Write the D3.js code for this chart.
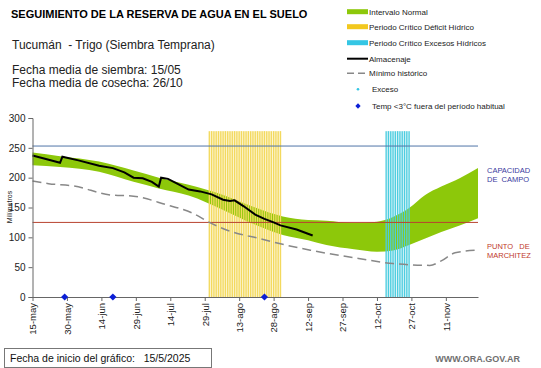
<!DOCTYPE html>
<html>
<head>
<meta charset="utf-8">
<script src="https://cdn.jsdelivr.net/npm/d3@7"></script>
<style>
  body { margin: 0; background: #fff; }
  svg { font-family: "Liberation Sans", Arial, sans-serif; }
  svg text { white-space: pre; }
</style>
</head>
<body>
<svg id="reserva" width="541" height="368"></svg>
<script>
// series, days counted from the start date (15/5/2025)
const startDate = "2025-05-15";
const endDay = 194;

const bandDays  = [0, 12, 29, 44, 55, 68, 83, 97, 109, 120, 128, 140, 150, 157, 164, 171, 178, 186, 194];
const bandUpper = [242, 236, 227, 212, 200, 188, 171, 150, 135, 129, 128, 124, 126, 134, 149, 171, 185, 199, 216];
const bandLower = [221, 218, 210, 193, 182, 170, 146, 121, 104, 95, 87, 80, 76, 78, 87, 98, 109, 120, 132];

const storageDays   = [0, 5, 12, 13, 20, 29, 35, 40, 44, 48, 52, 55, 56, 59, 63, 68, 73, 78, 83, 86, 88, 92, 97, 101, 105, 108, 115, 122];
const storageValues = [237, 232, 225, 235, 229, 220, 216, 209, 200, 199, 193, 185, 200, 198, 190, 180, 177, 172, 163, 161, 162, 152, 138, 131, 125, 120, 113, 103];

const minDays   = [0, 7, 18, 34, 44, 58, 70, 77, 87, 99, 107, 121, 142, 157, 173, 178, 184, 194];
const minValues = [194.5, 190, 186, 171, 169, 155, 140, 125, 109, 98, 90, 78.5, 64.5, 56, 53, 60.5, 74, 78.5];

const deficitPeriod = [77, 108];
const excessPeriod = [154, 164];
const periodTop = 278;
const frostDays = [14, 35, 101];

const fieldCapacity = 253;
const wiltingPoint = 125;

const tickDays = [0, 15, 30, 45, 60, 75, 90, 105, 120, 135, 150, 165, 180];
const tickLabels = ["15-may", "30-may", "14-jun", "29-jun", "14-jul", "29-jul", "13-ago", "28-ago", "12-sep", "27-sep", "12-oct", "27-oct", "11-nov"];
const yTicks = [0, 50, 100, 150, 200, 250, 300];

const legendItems = ["Intervalo Normal", "Periodo Crítico Déficit Hídrico", "Periodo Crítico Excesos Hídricos", "Almacenaje", "Mínimo histórico", "Exceso", "Temp <3°C fuera del período habitual"];

const svg = d3.select("svg#reserva");
const margins = { top: 118, left: 32.5, right: 63, bottom: 71 };
const width = +svg.attr("width");
const height = +svg.attr("height");
const chartWidth = width - margins.left - margins.right;
const chartHeight = height - margins.top - margins.bottom;

const t0 = d3.timeParse("%Y-%m-%d")(startDate);
const toDate = d => d3.timeDay.offset(t0, d);

const xScale = d3.scaleTime().domain([t0, toDate(endDay)]).range([0, chartWidth]);
const yScale = d3.scaleLinear().domain([0, 300]).range([chartHeight, 0]);

const chart = svg.append("g").attr("transform", `translate(${margins.left},${margins.top})`);

// pale background of the critical periods
function periodBack(range, color) {
  chart.append("rect")
    .attr("x", xScale(toDate(range[0])) - 0.6)
    .attr("width", xScale(toDate(range[1])) - xScale(toDate(range[0])) + 1.2)
    .attr("y", yScale(periodTop))
    .attr("height", yScale(0) - yScale(periodTop))
    .attr("fill", color);
}
periodBack(deficitPeriod, "#fcf5d2");
periodBack(excessPeriod, "#dff5f8");

// normal interval band
const band = bandDays.map((d, i) => ({ date: toDate(d), hi: bandUpper[i], lo: bandLower[i] }));
chart.append("path")
  .datum(band)
  .attr("fill", "#8dc80a")
  .attr("d", d3.area().curve(d3.curveMonotoneX).x(d => xScale(d.date)).y0(d => yScale(d.lo)).y1(d => yScale(d.hi)));

// critical periods, one line per day
function periodLines(range, color) {
  chart.append("g").selectAll("line")
    .data(d3.range(range[0], range[1] + 1))
    .enter().append("line")
    .attr("x1", d => xScale(toDate(d)))
    .attr("x2", d => xScale(toDate(d)))
    .attr("y1", yScale(0))
    .attr("y2", yScale(periodTop))
    .attr("stroke", color)
    .attr("stroke-width", 1.3);
}
periodLines(deficitPeriod, "#f3d95e");
periodLines(excessPeriod, "#4ccde0");

// field capacity and wilting point
chart.append("line")
  .attr("x1", 0).attr("x2", chartWidth)
  .attr("y1", yScale(fieldCapacity)).attr("y2", yScale(fieldCapacity))
  .attr("stroke", "#4f74a8").attr("stroke-width", 1);
chart.append("line")
  .attr("x1", 0).attr("x2", chartWidth)
  .attr("y1", yScale(wiltingPoint)).attr("y2", yScale(wiltingPoint))
  .attr("stroke", "#b8432f").attr("stroke-width", 1);

// minimum historic
chart.append("path")
  .datum(minDays.map((d, i) => ({ date: toDate(d), v: minValues[i] })))
  .attr("fill", "none")
  .attr("stroke", "#888")
  .attr("stroke-width", 1.5)
  .attr("stroke-dasharray", "9,5")
  .attr("d", d3.line().curve(d3.curveMonotoneX).x(d => xScale(d.date)).y(d => yScale(d.v)));

// storage
chart.append("path")
  .datum(storageDays.map((d, i) => ({ date: toDate(d), v: storageValues[i] })))
  .attr("fill", "none")
  .attr("stroke", "#000")
  .attr("stroke-width", 2)
  .attr("d", d3.line().x(d => xScale(d.date)).y(d => yScale(d.v)));

// axes
const leftAxis = d3.axisLeft(yScale).tickValues(yTicks).tickSize(4).tickPadding(3);
const yAxisG = chart.append("g").call(leftAxis);
yAxisG.selectAll("text").style("font-size", "10px").attr("fill", "#222");
yAxisG.selectAll("line, path").attr("stroke", "#666");

const bottomAxis = d3.axisBottom(xScale)
  .tickValues(tickDays.map(toDate))
  .tickFormat((d, i) => tickLabels[i])
  .tickSize(4)
  .tickSizeOuter(0);
const xAxisG = chart.append("g").attr("transform", `translate(0,${chartHeight})`).call(bottomAxis);
xAxisG.selectAll("line, path").attr("stroke", "#666");
xAxisG.selectAll("text")
  .style("font-size", "9.5px")
  .attr("fill", "#222")
  .attr("text-anchor", "end")
  .attr("transform", "rotate(-90)")
  .attr("x", -6)
  .attr("y", 0)
  .attr("dy", "0.35em");

// frost markers
chart.append("g").selectAll("path")
  .data(frostDays)
  .enter().append("path")
  .attr("d", d3.symbol().type(d3.symbolSquare).size(26))
  .attr("transform", d => `translate(${xScale(toDate(d))},${yScale(0)}) rotate(45)`)
  .attr("fill", "#0b1fd6");

// y label
svg.append("text")
  .text("Milímetros")
  .attr("transform", "rotate(-90,12,207)")
  .attr("x", 12).attr("y", 207)
  .attr("text-anchor", "middle")
  .style("font-size", "7px")
  .attr("fill", "#222");

// right annotations
svg.append("text").attr("x", 487).attr("y", 173).text("CAPACIDAD").style("font-size", "7.5px").attr("fill", "#3a3aa0");
svg.append("text").attr("x", 487).attr("y", 182).text("DE  CAMPO").style("font-size", "7.5px").attr("fill", "#3a3aa0");
svg.append("text").attr("x", 487).attr("y", 249).text("PUNTO   DE").style("font-size", "7.5px").attr("fill", "#c0392b");
svg.append("text").attr("x", 487).attr("y", 258).text("MARCHITEZ").style("font-size", "7.5px").attr("fill", "#c0392b");

// titles
svg.append("text").attr("x", 11).attr("y", 18).text("SEGUIMIENTO DE LA RESERVA DE AGUA EN EL SUELO")
  .style("font-size", "11px").style("font-weight", "bold").attr("fill", "#000");
svg.append("text").attr("x", 12).attr("y", 49).text("Tucumán  - Trigo (Siembra Temprana)")
  .style("font-size", "12px").attr("fill", "#222");
svg.append("text").attr("x", 12).attr("y", 74).text("Fecha media de siembra: 15/05")
  .style("font-size", "12px").attr("fill", "#222");
svg.append("text").attr("x", 12).attr("y", 87).text("Fecha media de cosecha: 26/10")
  .style("font-size", "12px").attr("fill", "#222");

// legend
const legend = svg.append("g").attr("transform", "translate(347,0)");
const rowY = [11.7, 26.7, 42.7, 58.7, 73.3, 89.3, 106];
legend.append("rect").attr("x", 0).attr("y", rowY[0] - 2.5).attr("width", 21).attr("height", 5).attr("fill", "#8dc80a");
legend.append("rect").attr("x", 0).attr("y", rowY[1] - 2.5).attr("width", 21).attr("height", 5).attr("fill", "#f2c81e");
legend.append("rect").attr("x", 0).attr("y", rowY[2] - 2.5).attr("width", 21).attr("height", 5).attr("fill", "#35c6e4");
legend.append("line").attr("x1", 0).attr("x2", 21).attr("y1", rowY[3]).attr("y2", rowY[3]).attr("stroke", "#000").attr("stroke-width", 2);
legend.append("line").attr("x1", 0).attr("x2", 21).attr("y1", rowY[4]).attr("y2", rowY[4]).attr("stroke", "#888").attr("stroke-width", 1.5).attr("stroke-dasharray", "7,4");
legend.append("circle").attr("cx", 11).attr("cy", rowY[5]).attr("r", 1.3).attr("fill", "#35c6e4");
legend.append("path").attr("d", d3.symbol().type(d3.symbolSquare).size(14)).attr("transform", `translate(11,${rowY[6]}) rotate(45)`).attr("fill", "#0b1fd6");
legend.selectAll("text.leg")
  .data(legendItems)
  .enter().append("text")
  .attr("class", "leg")
  .attr("x", (d, i) => i >= 5 ? 25 : 22)
  .attr("y", (d, i) => rowY[i])
  .attr("dy", "0.35em")
  .text(d => d)
  .style("font-size", "8px")
  .attr("fill", "#222");

// footer
svg.append("rect").attr("x", 4.5).attr("y", 348.5).attr("width", 207).attr("height", 19)
  .attr("fill", "#fff").attr("stroke", "#777").attr("stroke-width", 1);
svg.append("text").attr("x", 10).attr("y", 361.5).text("Fecha de inicio del gráfico:   15/5/2025")
  .style("font-size", "10.5px").attr("fill", "#111");
svg.append("text").attr("x", 520).attr("y", 362).attr("text-anchor", "end").text("WWW.ORA.GOV.AR")
  .style("font-size", "9px").style("font-weight", "bold").attr("fill", "#707070");
</script>
</body>
</html>
